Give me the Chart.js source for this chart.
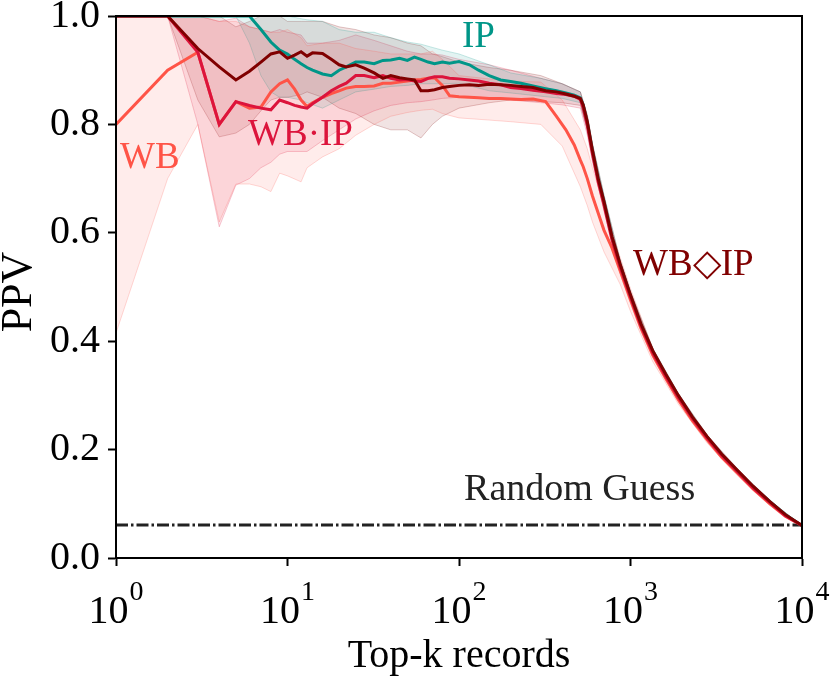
<!DOCTYPE html>
<html>
<head>
<meta charset="utf-8">
<script src="https://cdn.jsdelivr.net/npm/chart.js@4.4.1/dist/chart.umd.min.js"></script>
<style>
  html, body { margin: 0; padding: 0; background: #fff; }
  canvas { display: block; }
</style>
</head>
<body>
<canvas id="ppv" width="830" height="682"></canvas>
<script>
// k values for the mean curves
const topK = [1,2,3,4,5,6,7,8,9,10,11,12,13,14,16,18,20,22,25,28,32,36,40,45,50,55,60,66,72,80,88,100,115,130,150,175,200,230,270,320,370,420,470,510,530,560,600,650,700,780,870,1000,1150,1350,1600,1900,2300,2800,3400,4200,5200,6500,8000,10000];

const ppvWB = [0.80,0.90,0.933,0.80,0.842,0.83,0.832,0.86,0.875,0.882,0.865,0.845,0.833,0.84,0.85,0.857,0.862,0.867,0.87,0.87,0.871,0.876,0.876,0.878,0.88,0.882,0.883,0.885,0.886,0.872,0.853,0.851,0.85,0.849,0.848,0.848,0.847,0.846,0.847,0.842,0.815,0.79,0.762,0.734,0.722,0.70,0.668,0.635,0.605,0.572,0.53,0.476,0.424,0.374,0.332,0.292,0.253,0.218,0.186,0.157,0.127,0.10,0.077,0.06];
const ppvIP = [1,1,1,1,1,1,0.975,0.952,0.937,0.93,0.92,0.912,0.905,0.90,0.893,0.89,0.90,0.906,0.915,0.915,0.912,0.918,0.919,0.922,0.918,0.924,0.92,0.915,0.912,0.915,0.913,0.916,0.91,0.90,0.89,0.882,0.879,0.876,0.871,0.866,0.862,0.858,0.854,0.849,0.836,0.803,0.751,0.697,0.657,0.592,0.541,0.484,0.431,0.381,0.339,0.299,0.259,0.223,0.191,0.161,0.131,0.104,0.08,0.06];
const ppvWBdotIP = [1,1,0.933,0.80,0.842,0.835,0.83,0.827,0.845,0.84,0.835,0.832,0.83,0.838,0.85,0.862,0.87,0.876,0.89,0.89,0.886,0.89,0.885,0.882,0.883,0.88,0.879,0.885,0.888,0.888,0.885,0.884,0.882,0.88,0.876,0.873,0.868,0.866,0.863,0.86,0.857,0.855,0.852,0.846,0.83,0.798,0.746,0.692,0.652,0.587,0.537,0.481,0.428,0.378,0.336,0.296,0.257,0.221,0.189,0.159,0.129,0.102,0.078,0.06];
const ppvWBdiaIP = [1,1,0.94,0.906,0.882,0.898,0.915,0.93,0.934,0.922,0.928,0.934,0.926,0.932,0.931,0.92,0.91,0.906,0.91,0.904,0.895,0.885,0.89,0.886,0.884,0.882,0.862,0.862,0.864,0.868,0.87,0.872,0.873,0.872,0.874,0.873,0.872,0.87,0.868,0.862,0.86,0.856,0.852,0.848,0.836,0.805,0.752,0.698,0.658,0.593,0.542,0.485,0.432,0.382,0.34,0.30,0.26,0.224,0.192,0.162,0.132,0.104,0.08,0.06];

// k values for the spread bands
const bandK = [1,2,3,4,5,6,7,8,9,10,12,13,16,20,25,32,40,50,60,70,80,100,150,200,300,400,510,560,600,700,870,1000,1350,1900,2800,4200,6500,10000];

const loWB = [0.415,0.70,0.80,0.62,0.69,0.69,0.685,0.676,0.71,0.705,0.694,0.72,0.74,0.755,0.78,0.80,0.815,0.822,0.826,0.828,0.82,0.812,0.808,0.805,0.80,0.76,0.685,0.65,0.62,0.565,0.505,0.455,0.362,0.284,0.212,0.152,0.097,0.06];
const hiWB = [1,1,1,0.99,0.99,0.98,0.975,0.97,0.97,0.975,0.96,0.945,0.95,0.95,0.94,0.935,0.93,0.93,0.93,0.935,0.92,0.89,0.884,0.88,0.878,0.845,0.79,0.755,0.72,0.648,0.555,0.497,0.386,0.30,0.224,0.162,0.103,0.06];
const loIP = [1,1,1,1,1,0.95,0.89,0.86,0.85,0.85,0.845,0.84,0.83,0.845,0.86,0.865,0.87,0.872,0.875,0.875,0.875,0.876,0.862,0.858,0.852,0.848,0.84,0.79,0.738,0.645,0.533,0.477,0.376,0.295,0.22,0.159,0.102,0.06];
const hiIP = [1,1,1,1,1,1,1,1,1,1,0.995,0.993,0.99,0.975,0.97,0.97,0.96,0.952,0.948,0.942,0.937,0.93,0.91,0.895,0.885,0.875,0.86,0.815,0.764,0.67,0.549,0.491,0.386,0.303,0.226,0.163,0.106,0.06];
const loWBdotIP = [1,1,0.80,0.611,0.688,0.70,0.72,0.73,0.745,0.75,0.75,0.75,0.77,0.79,0.81,0.825,0.835,0.84,0.842,0.845,0.848,0.85,0.848,0.845,0.84,0.836,0.83,0.78,0.73,0.64,0.529,0.474,0.373,0.292,0.218,0.156,0.10,0.06];
const hiWBdotIP = [1,1,1,0.99,0.996,0.98,0.975,0.97,0.975,0.97,0.965,0.95,0.95,0.955,0.965,0.955,0.945,0.935,0.93,0.93,0.928,0.92,0.91,0.90,0.885,0.875,0.86,0.815,0.762,0.665,0.546,0.489,0.383,0.30,0.224,0.162,0.104,0.06];
const loWBdiaIP = [1,1,0.845,0.777,0.784,0.80,0.825,0.845,0.85,0.85,0.855,0.86,0.85,0.83,0.82,0.80,0.79,0.79,0.775,0.80,0.815,0.83,0.84,0.845,0.842,0.84,0.835,0.79,0.738,0.646,0.534,0.478,0.377,0.296,0.221,0.159,0.102,0.06];
const hiWBdiaIP = [1,1,1,1,0.98,0.99,1,1,1,0.99,0.99,0.99,0.99,0.98,0.975,0.965,0.96,0.95,0.945,0.93,0.925,0.915,0.905,0.90,0.89,0.875,0.86,0.818,0.765,0.67,0.55,0.492,0.387,0.304,0.227,0.165,0.106,0.06];

const randomGuess = 0.061;
const xTickVals = [1, 10, 100, 1000, 10000];
const yTickVals = [0, 0.2, 0.4, 0.6, 0.8, 1.0];

const FONT = '"Liberation Serif", "Times New Roman", serif';

const series = [
  { name: 'WB',    color: [255, 84, 71],  line: ppvWB,      lo: loWB,      hi: hiWB,      z: 4 },
  { name: 'IP',    color: [0, 150, 136],  line: ppvIP,      lo: loIP,      hi: hiIP,      z: 3 },
  { name: 'WB·IP', color: [220, 20, 60],  line: ppvWBdotIP, lo: loWBdotIP, hi: hiWBdotIP, z: 2 },
  { name: 'WB◇IP', color: [128, 0, 0],    line: ppvWBdiaIP, lo: loWBdiaIP, hi: hiWBdiaIP, z: 1 }
];

// text labels placed in data coordinates (left edge, baseline)
const seriesLabels = [
  { text: 'WB',           k: 1.055, v: 0.720, color: 'rgb(255,84,71)' },
  { text: 'WB·IP',        k: 5.89,  v: 0.762, color: 'rgb(220,20,60)' },
  { text: 'IP',           k: 104,   v: 0.943, color: 'rgb(0,150,136)' },
  { text: 'WB◇IP',        k: 1035,  v: 0.522, color: 'rgb(128,0,0)' },
  { text: 'Random Guess', k: 107,   v: 0.107, color: '#222' }
];

const rgba = (c, a) => `rgba(${c[0]},${c[1]},${c[2]},${a})`;
const pts = (xs, ys) => xs.map((x, i) => ({ x: x, y: ys[i] }));

const datasets = [];
series.forEach((s, i) => {
  datasets.push({
    data: pts(bandK, s.lo), borderColor: rgba(s.color, 0.22), borderWidth: 1,
    pointRadius: 0, fill: false, order: 20 + i
  });
  datasets.push({
    data: pts(bandK, s.hi), borderColor: rgba(s.color, 0.22), borderWidth: 1,
    backgroundColor: rgba(s.color, 0.11), pointRadius: 0, fill: '-1', order: 20 + i
  });
});
datasets.push({
  data: [{ x: 1, y: randomGuess }, { x: 10000, y: randomGuess }],
  borderColor: '#222', borderWidth: 3, borderDash: [12, 3, 2.5, 3],
  pointRadius: 0, fill: false, order: 10
});
series.forEach(s => {
  datasets.push({
    data: pts(topK, s.line), borderColor: rgba(s.color, 1), borderWidth: 3,
    pointRadius: 0, fill: false, order: s.z
  });
});

const decorations = {
  id: 'decorations',
  afterDraw(chart) {
    const { ctx, chartArea: a, scales: { x, y } } = chart;
    ctx.save();

    // full frame
    ctx.strokeStyle = '#000';
    ctx.lineWidth = 2;
    ctx.strokeRect(a.left, a.top, a.right - a.left, a.bottom - a.top);

    // x tick labels as 10^n
    ctx.fillStyle = '#000';
    ctx.textBaseline = 'alphabetic';
    ctx.textAlign = 'left';
    xTickVals.forEach(v => {
      const px = x.getPixelForValue(v);
      const exp = String(Math.round(Math.log10(v)));
      ctx.font = `40px ${FONT}`;
      const w1 = ctx.measureText('10').width;
      ctx.font = `28px ${FONT}`;
      const w2 = ctx.measureText(exp).width;
      const start = px - (w1 + w2 + 1) / 2;
      ctx.font = `40px ${FONT}`;
      ctx.fillText('10', start, 623);
      ctx.font = `28px ${FONT}`;
      ctx.fillText(exp, start + w1 + 1, 600);
    });

    // axis titles
    ctx.font = `40px ${FONT}`;
    ctx.textAlign = 'center';
    ctx.fillText('Top-k records', (a.left + a.right) / 2, 667);
    ctx.save();
    ctx.translate(31, (a.top + a.bottom) / 2 + 5);
    ctx.rotate(-Math.PI / 2);
    ctx.font = `44px ${FONT}`;
    ctx.fillText('PPV', 0, 0);
    ctx.restore();

    // series labels
    ctx.textAlign = 'left';
    seriesLabels.forEach(l => {
      ctx.font = l.text === 'Random Guess' ? `38px ${FONT}` : `37px ${FONT}`;
      ctx.fillStyle = l.color;
      ctx.fillText(l.text, x.getPixelForValue(l.k), y.getPixelForValue(l.v));
    });
    ctx.restore();
  }
};

new Chart(document.getElementById('ppv'), {
  type: 'line',
  data: { datasets: datasets },
  options: {
    responsive: false,
    devicePixelRatio: 1,
    animation: false,
    events: [],
    layout: { padding: { top: 16, right: 28, left: 0, bottom: 0 } },
    elements: { line: { tension: 0 } },
    plugins: { legend: { display: false }, tooltip: { enabled: false } },
    scales: {
      x: {
        type: 'logarithmic',
        min: 1,
        max: 10000,
        afterBuildTicks: scale => { scale.ticks = xTickVals.map(v => ({ value: v })); },
        afterFit: scale => { scale.height = 124; scale.paddingLeft = 0; scale.paddingRight = 0; },
        ticks: { display: false },
        grid: { drawOnChartArea: false, drawTicks: true, tickLength: 8, tickWidth: 2, tickColor: '#000' },
        border: { display: true, color: '#000', width: 2 }
      },
      y: {
        min: 0,
        max: 1,
        afterBuildTicks: scale => { scale.ticks = yTickVals.map(v => ({ value: v })); },
        afterFit: scale => { scale.width = 116; scale.paddingTop = 0; scale.paddingBottom = 0; },
        ticks: {
          color: '#000',
          padding: 8,
          font: { family: FONT, size: 40 },
          callback: v => v.toFixed(1)
        },
        grid: { drawOnChartArea: false, drawTicks: true, tickLength: 8, tickWidth: 2, tickColor: '#000' },
        border: { display: true, color: '#000', width: 2 }
      }
    }
  },
  plugins: [decorations]
});
</script>
</body>
</html>
